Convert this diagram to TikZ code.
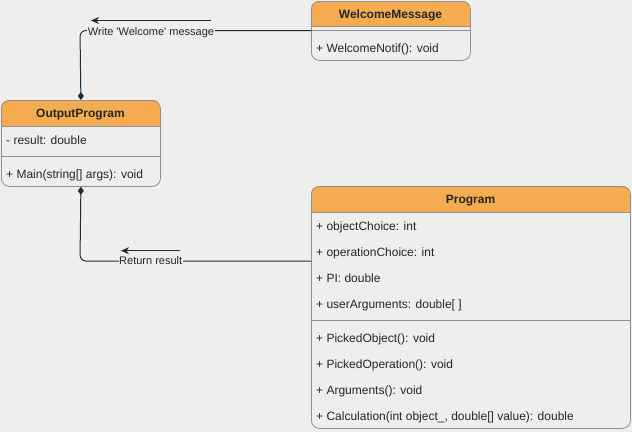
\documentclass[tikz,border=0pt]{standalone}
\usepackage{fontspec}
\setmainfont{Liberation Sans}
\newfontfamily\lblfont{Liberation Sans}
\usetikzlibrary{arrows.meta}
\definecolor{bg}{HTML}{EEEEEE}
\definecolor{hdr}{HTML}{F5AB50}
\definecolor{bord}{HTML}{909090}
\definecolor{conn}{HTML}{182E3E}
\definecolor{txt}{HTML}{262626}
\begin{document}
\begin{tikzpicture}[x=1pt,y=-1pt,
  classbox/.style={draw=bord,line width=0.8pt,rounded corners=8pt,anchor=north west,inner sep=0pt},
  hdrfill/.style={fill=hdr},
  sepline/.style={draw=bord,line width=0.8pt},
  member/.style={anchor=west,inner sep=0pt,text height=8.6pt,text depth=0pt,font=\fontsize{12pt}{14pt}\selectfont,text=txt},
  title/.style={inner sep=0pt,text height=8.6pt,text depth=0pt,font=\fontsize{12pt}{14pt}\selectfont\bfseries,text=txt},
  lbl/.style={fill=bg,inner sep=0.5pt,text height=7.9pt,text depth=0pt,font=\lblfont\fontsize{11pt}{13pt}\selectfont,text=txt},
  conline/.style={draw=conn,line width=1pt,rounded corners=6pt},
  dirarrow/.style={draw=conn,line width=1pt,-{Stealth[length=8pt,width=7pt,inset=2.5pt]}},
  diam/.style={{Diamond[length=8pt,width=6pt,fill=conn]}-}
]
\useasboundingbox[fill=bg] (0,0) rectangle (632,432);

% ---- WelcomeMessage
\fill[hdrfill] (311,26) {[rounded corners=8pt] -- (311,1) -- (470,1)} -- (470,26) -- cycle;
\draw[sepline] (311,26) -- (470,26);
\draw[sepline] (311,30.5) -- (470,30.5);
\node[classbox,minimum width=159pt,minimum height=59pt] (wm) at (311,1) {};
\node[title] (wmt) at (390.5,14) {WelcomeMessage};
\node[member] (wm1) at (316,48) {+ WelcomeNotif(): void};

% ---- OutputProgram
\fill[hdrfill] (1,126) {[rounded corners=8pt] -- (1,100) -- (160,100)} -- (160,126) -- cycle;
\draw[sepline] (1,126) -- (160,126);
\draw[sepline] (1,156) -- (160,156);
\node[classbox,minimum width=159pt,minimum height=86pt] (op) at (1,100) {};
\node[title] (opt) at (80.5,113) {OutputProgram};
\node[member] (op1) at (6,140) {- result: double};
\node[member] (op2) at (6,174) {+ Main(string[] args): void};

% ---- Program
\fill[hdrfill] (311,212) {[rounded corners=8pt] -- (311,186) -- (630,186)} -- (630,212) -- cycle;
\draw[sepline] (311,212) -- (630,212);
\draw[sepline] (311,320) -- (630,320);
\node[classbox,minimum width=319pt,minimum height=242pt] (pr) at (311,186) {};
\node[title] (prt) at (470.5,199) {Program};
\node[member] (p1) at (316,226) {+ objectChoice: int};
\node[member] (p2) at (316,252) {+ operationChoice: int};
\node[member] (p3) at (316,278) {+ PI: double};
\node[member] (p4) at (316,304) {+ userArguments: double[ ]};
\node[member] (p5) at (316,338) {+ PickedObject(): void};
\node[member] (p6) at (316,364) {+ PickedOperation(): void};
\node[member] (p7) at (316,390) {+ Arguments(): void};
\node[member] (p8) at (316,416.5) {+ Calculation(int object\_, double[] value): double};

% ---- connectors
\coordinate (c1) at (80,30.5);
\coordinate (wmW) at (311,30.5);
\draw[conline,diam] (op.north) -- (c1) -- (wmW);
\node[lbl] (l1) at (151,32) {Write 'Welcome' message};
\coordinate (a1s) at (211,20.5);
\coordinate (a1e) at (91,20.5);
\draw[dirarrow] (a1s) -- (a1e);

\coordinate (c2) at (80,261);
\coordinate (prW) at (311,261);
\draw[conline,diam] (op.south) -- (c2) -- (prW);
\node[lbl] (l2) at (150.7,261) {Return result};
\coordinate (a2s) at (180,250.7);
\coordinate (a2e) at (121,250.7);
\draw[dirarrow] (a2s) -- (a2e);
\end{tikzpicture}
\end{document}
